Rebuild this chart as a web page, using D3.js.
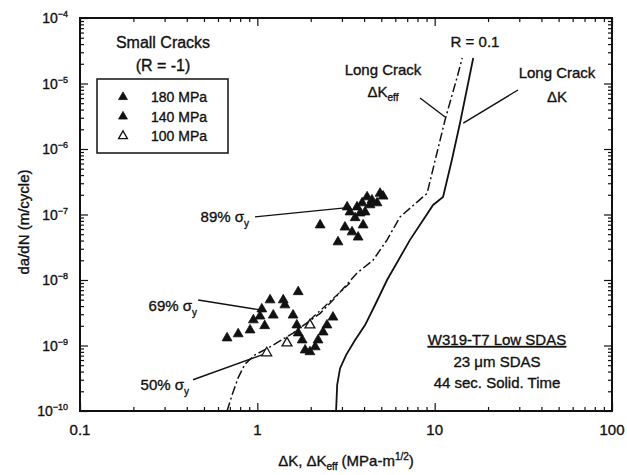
<!DOCTYPE html>
<html>
<head>
<meta charset="utf-8">
<script src="https://cdn.jsdelivr.net/npm/d3@7"></script>
<style>
  html, body { margin: 0; padding: 0; background: #fff; }
  svg { display: block; font-family: "Liberation Sans", Arial, sans-serif; }
  svg text { stroke: #111; stroke-width: 0.35px; }
</style>
</head>
<body>
<svg id="chart" width="627" height="475"></svg>
<script>
// Small-crack growth data, da/dN (m/cycle) versus ΔK (MPa·m^1/2)
const small180 = [
  [2.26, 6.9e-8], [2.85, 3.8e-8], [3.12, 6.4e-8], [3.21, 1.3e-7], [3.33, 1.09e-7],
  [3.42, 5.4e-8], [3.56, 8.9e-8], [3.65, 1.3e-7], [3.70, 4.5e-8], [3.80, 1.05e-7],
  [3.90, 1.5e-7], [3.95, 6.9e-8], [4.16, 1.85e-7], [4.32, 1.4e-7], [4.43, 1.66e-7],
  [4.73, 1.5e-7], [4.92, 2.1e-7], [5.12, 1.9e-7], [4.05, 1.09e-7]
];
const small140 = [
  [0.675, 1.3e-9], [0.78, 1.5e-9], [0.91, 1.72e-9], [0.95, 2.45e-9], [1.06, 3.6e-9],
  [1.18, 4.95e-9], [1.40, 4.95e-9], [1.70, 6.6e-9], [1.23, 2.9e-9], [1.10, 2.0e-9],
  [1.59, 2.9e-9], [1.67, 2.05e-9], [1.70, 1.55e-9], [1.79, 1.21e-9], [1.86, 8.5e-10],
  [1.98, 8.0e-10], [2.12, 9.5e-10], [2.20, 1.21e-9], [2.35, 1.6e-9], [2.47, 2.05e-9],
  [2.67, 2.7e-9], [1.035, 2.8e-9], [1.43, 4.15e-9]
];
const small100 = [
  [1.98, 2.05e-9], [1.47, 1.09e-9], [1.13, 7.7e-10]
];

// Long-crack curves, R = 0.1
const longDK = [
  [2.78, 1e-10], [2.82, 2.5e-10], [2.93, 4.5e-10], [3.17, 7.2e-10], [3.56, 1.21e-9],
  [4.05, 2.05e-9], [4.61, 4.15e-9], [5.39, 1.0e-8], [7.26, 4.1e-8], [9.80, 1.4e-7],
  [11.15, 1.85e-7], [12.5, 6.8e-7], [13.9, 2.5e-6], [16.5, 2.45e-5]
];
const longDKeff = [
  [0.675, 1e-10], [0.72, 1.75e-10], [0.779, 3.2e-10], [0.852, 5.2e-10], [0.97, 7.2e-10],
  [1.18, 9.5e-10], [1.59, 1.55e-9], [2.26, 3.1e-9], [2.67, 4.95e-9], [3.65, 1.28e-8],
  [4.49, 2.0e-8], [5.39, 4.1e-8], [6.38, 9.2e-8], [9.06, 2.1e-7], [10.3, 8.7e-7],
  [11.45, 2.8e-6], [13.4, 1.26e-5], [14.3, 2.45e-5]
];
const shortTrend = [[1.98, 2.45e-9], [3.33, 9.0e-9]];

// Annotation leaders: [from, to] in data units
const leaders = [
  { label: "89%", pts: [[0.97, 9.2e-8], [3.12, 1.26e-7]] },
  { label: "69%", pts: [[0.464, 4.95e-9], [1.035, 3.5e-9]] },
  { label: "50%", pts: [[0.434, 3.0e-10], [1.063, 7.2e-10]] },
  { label: "eff", pts: [[8.27, 6.0e-6], [11.45, 3.08e-6]] },
  { label: "dk", pts: [[29.5, 7.96e-6], [14.5, 2.49e-6]] }
];

const xTickLabels = ["0.1", "1", "10", "100"];
const xTickValues = [0.1, 1, 10, 100];
const yExponents = [-4, -5, -6, -7, -8, -9, -10];
const legendLabels = ["180 MPa", "140 MPa", "100 MPa"];

const svg = d3.select("#chart");
const L = 80, R = 612, T = 18, B = 411;

const x = d3.scaleLog().domain([0.1, 100]).range([L, R]);
const y = d3.scaleLog().domain([1e-10, 1e-4]).range([B, T]);

// minor tick positions (2..9 in each decade)
const minorX = [], minorY = [];
for (let e = -1; e < 2; e++) for (let m = 2; m <= 9; m++) minorX.push(m * Math.pow(10, e));
for (let e = -10; e < -4; e++) for (let m = 2; m <= 9; m++) minorY.push(m * Math.pow(10, e));
const majorY = yExponents.map(e => Math.pow(10, e));

function drawAxis(gen, pos, values, len) {
  const g = svg.append("g").attr("transform", pos)
    .call(gen.tickValues(values).tickSizeInner(-len).tickSizeOuter(0).tickFormat(""));
  g.select(".domain").remove();
  g.selectAll(".tick line").attr("stroke", "#111").attr("stroke-width", 1.2);
}
drawAxis(d3.axisBottom(x), `translate(0,${B})`, xTickValues, 8);
drawAxis(d3.axisBottom(x), `translate(0,${B})`, minorX, 4);
drawAxis(d3.axisTop(x), `translate(0,${T})`, xTickValues, 8);
drawAxis(d3.axisTop(x), `translate(0,${T})`, minorX, 4);
drawAxis(d3.axisLeft(y), `translate(${L},0)`, majorY, 8);
drawAxis(d3.axisLeft(y), `translate(${L},0)`, minorY, 4);
drawAxis(d3.axisRight(y), `translate(${R},0)`, majorY, 8);
drawAxis(d3.axisRight(y), `translate(${R},0)`, minorY, 4);

// frame
svg.append("rect").attr("x", L).attr("y", T).attr("width", R - L).attr("height", B - T)
  .attr("fill", "none").attr("stroke", "#111").attr("stroke-width", 2);

// tick labels
svg.append("g").selectAll("text").data(xTickValues).join("text")
  .attr("x", d => x(d)).attr("y", B + 24).attr("text-anchor", "middle")
  .attr("font-size", 15).attr("fill", "#111")
  .text((d, i) => xTickLabels[i]);

const yl = svg.append("g").selectAll("text").data(yExponents).join("text")
  .attr("x", L - 12).attr("y", d => y(Math.pow(10, d)) + 5)
  .attr("text-anchor", "end").attr("font-size", 14).attr("fill", "#111");
yl.append("tspan").text("10");
yl.append("tspan").attr("dy", -6).attr("font-size", 9).text(d => "\u2212" + Math.abs(d));

// axis titles
const xt = svg.append("text").attr("x", 346).attr("y", 466).attr("text-anchor", "middle")
  .attr("font-size", 15).attr("fill", "#111");
xt.append("tspan").text("\u0394K, \u0394K");
xt.append("tspan").attr("dy", 4).attr("font-size", 10).text("eff");
xt.append("tspan").attr("dy", -4).text(" (MPa-m");
xt.append("tspan").attr("dy", -6).attr("font-size", 10).text("1/2");
xt.append("tspan").attr("dy", 6).text(")");

svg.append("text").attr("transform", "translate(29,222) rotate(-90)")
  .attr("text-anchor", "middle").attr("font-size", 15).attr("fill", "#111")
  .text("da/dN (m/cycle)");

// long-crack curves
const line = d3.line().x(d => x(d[0])).y(d => y(d[1]));
svg.append("path").datum(longDK).attr("d", line)
  .attr("fill", "none").attr("stroke", "#111").attr("stroke-width", 1.8);
svg.append("path").datum(longDKeff).attr("d", line)
  .attr("fill", "none").attr("stroke", "#111").attr("stroke-width", 1.5)
  .attr("stroke-dasharray", "9,3,2,3");
svg.append("path").datum(shortTrend).attr("d", line)
  .attr("fill", "none").attr("stroke", "#111").attr("stroke-width", 1.3)
  .attr("stroke-dasharray", "8,3,2,3");

// leader lines
svg.append("g").selectAll("path").data(leaders).join("path")
  .attr("d", d => line(d.pts)).attr("fill", "none")
  .attr("stroke", "#111").attr("stroke-width", 1.4);

// data symbols
const tri = d3.symbol().type(d3.symbolTriangle).size(42);
function plotSeries(data, filled) {
  svg.append("g").selectAll("path").data(data).join("path")
    .attr("d", tri)
    .attr("transform", d => `translate(${x(d[0])},${y(d[1])})`)
    .attr("fill", filled ? "#111" : "#fff")
    .attr("stroke", "#111").attr("stroke-width", filled ? 0.8 : 1.3);
}
plotSeries(small180, true);
plotSeries(small140, true);
plotSeries(small100, false);

// stress-level labels
function sigmaLabel(px, py, pct) {
  const t = svg.append("text").attr("x", px).attr("y", py).attr("text-anchor", "end")
    .attr("font-size", 15).attr("fill", "#111");
  t.append("tspan").text(pct + " \u03C3");
  t.append("tspan").attr("dy", 5).attr("font-size", 10).text("y");
}
sigmaLabel(249, 222, "89%");
sigmaLabel(197, 311, "69%");
sigmaLabel(189, 390, "50%");

// curve labels
function centered(px, py, txt, size) {
  return svg.append("text").attr("x", px).attr("y", py).attr("text-anchor", "middle")
    .attr("font-size", size || 15).attr("fill", "#111").text(txt);
}
centered(475, 47, "R = 0.1");
centered(383, 75, "Long Crack");
const eff = svg.append("text").attr("x", 383).attr("y", 97).attr("text-anchor", "middle")
  .attr("font-size", 15).attr("fill", "#111");
eff.append("tspan").text("\u0394K");
eff.append("tspan").attr("dy", 4).attr("font-size", 10).text("eff");
centered(557, 78, "Long Crack");
centered(557, 102, "\u0394K");

// legend
centered(163, 48, "Small Cracks", 16);
centered(163, 71, "(R = -1)", 16);
svg.append("rect").attr("x", 97).attr("y", 79).attr("width", 131).attr("height", 74)
  .attr("fill", "none").attr("stroke", "#111").attr("stroke-width", 1.5);
const lg = svg.append("g").selectAll("g").data(legendLabels).join("g")
  .attr("transform", (d, i) => `translate(0,${97 + i * 19.5})`);
lg.append("path").attr("d", d3.symbol().type(d3.symbolTriangle).size(34))
  .attr("transform", "translate(123,0)")
  .attr("fill", (d, i) => i < 2 ? "#111" : "#fff")
  .attr("stroke", "#111").attr("stroke-width", (d, i) => i < 2 ? 0.8 : 1.3);
lg.append("text").attr("x", 151).attr("y", 5).attr("font-size", 14).attr("fill", "#111")
  .text(d => d);

// material note
centered(497, 345, "W319-T7 Low SDAS").attr("text-decoration", "underline");
centered(497, 367, "23 \u03BCm SDAS");
centered(497, 388, "44 sec. Solid. Time");
</script>
</body>
</html>
